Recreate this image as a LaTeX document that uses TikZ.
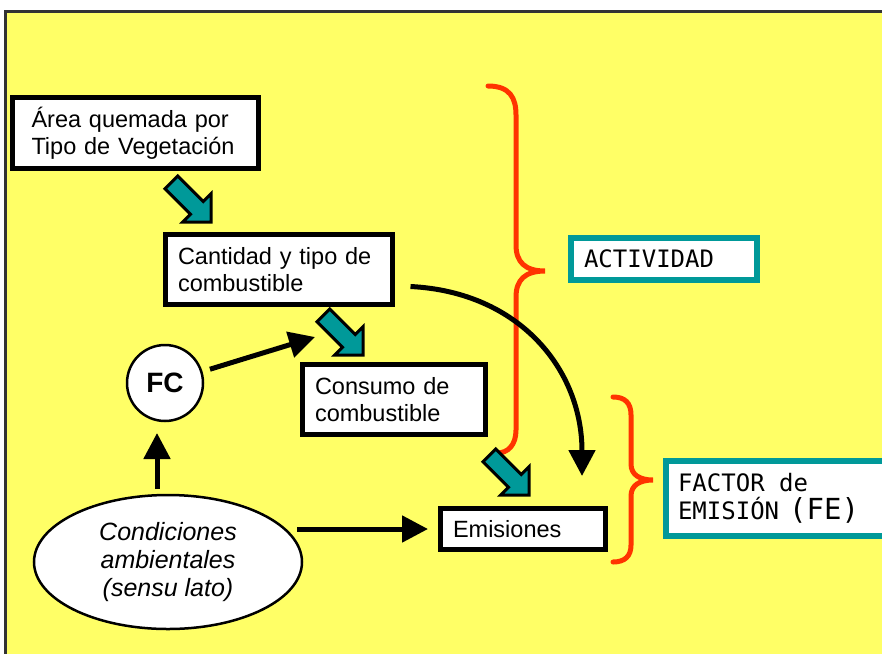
\documentclass[tikz,border=0pt]{standalone}
\usepackage{fontspec}
\setmainfont{Liberation Sans}
\newfontfamily\monofont{DejaVu Sans Mono}
\usetikzlibrary{shapes.geometric,arrows.meta}
\definecolor{bgyellow}{HTML}{FFFF66}
\definecolor{tealc}{HTML}{009999}
\definecolor{bracered}{HTML}{FF3300}
\definecolor{framegray}{HTML}{333333}
\begin{document}
\begin{tikzpicture}[x=1pt,y=-1pt,
  box/.style={draw=black, line width=5pt, fill=white, align=left, outer sep=0pt, inner ysep=0pt,
    font=\fontsize{23.5}{27}\selectfont},
  tealbox/.style={draw=tealc, line width=6pt, fill=white, align=left, outer sep=0pt, inner ysep=0pt,
    font=\monofont\fontsize{24}{28}\selectfont},
  arr/.style={line width=5pt, -{Triangle[length=26pt,width=26pt]}},
  brace/.style={draw=bracered, line width=5pt, line cap=round},
  tealarrow/.pic={\draw[line width=3pt, fill=tealc, line join=miter]
    (0,0) -- (-20,20) -- (-20,9) -- (-56,9) -- (-56,-9) -- (-20,-9) -- (-20,-20) -- cycle;}
]
\useasboundingbox (0,0) rectangle (882,653);
\clip (0,0) rectangle (882,653);
\fill[white] (0,0) rectangle (882,653);
\draw[framegray, line width=3pt, fill=bgyellow] (5.5,11.5) rectangle (900,680);

% braces
\draw[brace] (488,86) .. controls (510,86) and (516,98) .. (516,115) -- (516,245)
  .. controls (516,262) and (525,271) .. (545,271)
  .. controls (525,271) and (516,280) .. (516,297) -- (516,430)
  .. controls (516,445) and (508,453) .. (497,453);
\draw[brace] (613,397) .. controls (625,397) and (631,403) .. (631,415) -- (631,464)
  .. controls (631,475) and (640,480) .. (653,480)
  .. controls (640,480) and (631,485) .. (631,496) -- (631,545)
  .. controls (631,556) and (625,562) .. (613,562);

% boxes
\node[box, text width=208pt, inner xsep=19pt, minimum height=71pt] (area) at (135.5,133)
  {Área quemada por\\Tipo de Vegetación};
\node[box, text width=202pt, inner xsep=12.5pt, minimum height=70pt] (cant) at (279,269.5)
  {Cantidad y tipo de\\combustible};
\node[box, text width=158pt, inner xsep=12.5pt, minimum height=70pt] (cons) at (394,399.5)
  {Consumo de\\combustible};
\node[box, text width=140pt, inner xsep=12.5pt, minimum height=41pt] (em) at (523,529)
  {Emisiones};
\node[tealbox, text width=160pt, inner xsep=13pt, minimum height=42pt] (act) at (664,259)
  {ACTIVIDAD};
\node[tealbox, text width=250pt, inner xsep=12pt, minimum height=75pt] (fe) at (803,498)
  {FACTOR\hspace*{14.4pt}de\\EMISIÓN\hspace*{10pt}{\fontsize{29}{28}\selectfont(FE)}};

\node[circle, draw=black, line width=2.5pt, fill=white, minimum size=76pt, inner sep=0pt, outer sep=0pt,
  font=\bfseries\fontsize{28}{28}\selectfont] (fc) at (165,383) {FC};
\node[ellipse, draw=black, line width=2.5pt, fill=white, minimum width=268pt, minimum height=134pt,
  inner sep=0pt, outer sep=0pt, align=center, font=\itshape\fontsize{25}{28}\selectfont] (cond) at (168,562)
  {Condiciones\\ambientales\\(sensu lato)};

% teal block arrows
\pic[rotate=-45] at (211,222) {tealarrow};
\pic[rotate=-45] at (363,355) {tealarrow};
\pic[rotate=-45] at (529,495) {tealarrow};

% black connectors
\coordinate (fcTip) at (315,337);
\coordinate (feTip) at (582,476);
\draw[arr, shorten <=9pt] (fc) -- (fcTip);
\draw[arr, shorten <=6pt, shorten >=12pt] ([xshift=-11pt]cond.north) -- ([xshift=-8pt]fc.south);
\draw[arr, shorten <=-5pt, shorten >=12.5pt] (cond.east |- em.west) -- (em.west);
\draw[arr] ([shift={(18,17)}]cant.east) .. controls (520,292) and (582,370) .. (feTip);
\end{tikzpicture}
\end{document}
